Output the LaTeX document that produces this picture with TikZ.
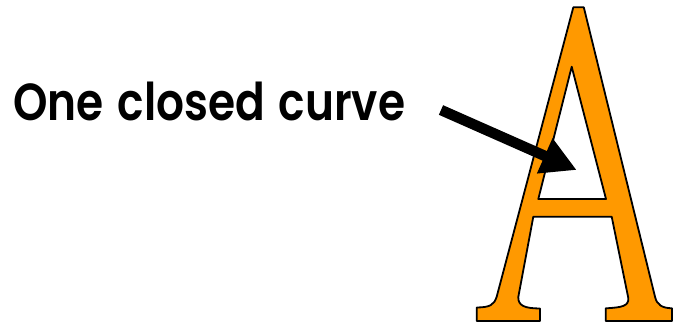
\documentclass[tikz,border=0pt]{standalone}
\usepackage{fontspec}
\usepackage{graphicx}
\newfontfamily\labelfont{Poppins SemiBold}
\usetikzlibrary{arrows.meta}
\definecolor{letterorange}{RGB}{255,153,0}
\begin{document}
\begin{tikzpicture}[x=1pt,y=-1pt,
  letter/.style={fill=letterorange, draw=black, line width=1.8pt, even odd rule, line join=round},
  pointer/.style={line width=10.5pt, -{Triangle[length=35pt,width=36pt]}},
  caption/.style={inner sep=0pt, anchor=base west, font=\labelfont}]
\useasboundingbox (0,0) rectangle (673,322);
% the letter A
\path[letter]
  (573.3,7.3) -- (583.8,7.3) -- (655,296.7)
  .. controls (657,305) and (662,308) .. (672,308.3)
  -- (672,321) -- (605.7,321) -- (605.7,308.3)
  .. controls (622,307.5) and (629,306) .. (628.3,298)
  -- (611.7,216.7) -- (533.3,216.7) -- (518.3,297)
  .. controls (518,306) and (525,308.3) .. (540,308.5)
  -- (540,321) -- (476.7,321) -- (476.7,307.5)
  .. controls (490,307.3) and (494,305) .. (496.7,296.7)
  -- cycle
  (571.7,66.7) -- (606,199) -- (538.3,199) -- cycle;
% label
\node[caption] (label) at (13,120.5) {\resizebox{392pt}{38.5pt}{One\hspace{0.08em} closed\hspace{0.08em} curve}};
% arrow
\coordinate (tail) at (441,110);
\coordinate (tip) at (576.7,170);
\draw[pointer] (tail) -- (tip);
\end{tikzpicture}
\end{document}
